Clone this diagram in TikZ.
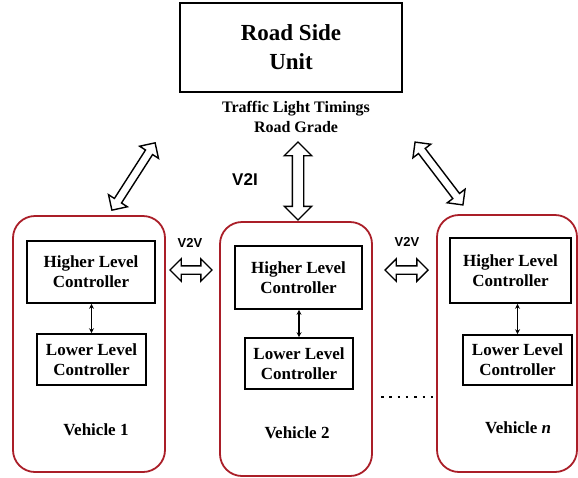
\documentclass[tikz,border=0pt]{standalone}
\usepackage{fontspec}
\setmainfont{Liberation Serif}
\setsansfont{Liberation Sans}
\usetikzlibrary{shapes.arrows,arrows.meta}
\definecolor{vred}{RGB}{170,30,40}
\begin{document}
\begin{tikzpicture}[x=1pt,y=-1pt,
  box/.style={draw, line width=1.6pt, inner sep=0pt, align=center,
    font=\bfseries\fontsize{17}{20}\selectfont},
  vbox/.style={draw=vred, line width=1.8pt, rounded corners=22pt, inner sep=0pt},
  harrow/.style={double arrow, draw, line width=1.4pt, inner xsep=0pt, inner ysep=3.5pt, fill=white,
    double arrow head extend=7pt, double arrow head indent=0pt},
  vlabel/.style={font=\sffamily\bfseries\fontsize{13}{15}\selectfont, inner sep=0pt},
  vtext/.style={font=\bfseries\fontsize{17}{20}\selectfont, inner sep=0pt},
  small/.style={{Stealth[length=5pt,width=5pt]}-{Stealth[length=5pt,width=5pt]}, line width=1.3pt}
]
\useasboundingbox (0,0) rectangle (578,477);
% Road side unit
\node[box, minimum width=222pt, minimum height=89pt,
  font=\bfseries\fontsize{23}{29}\selectfont] (rsu) at (291,47.5) {Road Side\\Unit};
\node[align=center, inner sep=0pt, font=\bfseries\fontsize{16}{20}\selectfont] (info) at (296,117) {Traffic Light Timings\\Road Grade};
% vehicles
\node[vbox, minimum width=152pt, minimum height=256pt] (v1) at (89,344) {};
\node[vbox, minimum width=152pt, minimum height=254pt] (v2) at (296,349) {};
\node[vbox, minimum width=140pt, minimum height=257pt] (vn) at (507,343.5) {};
% controllers
\node[box, minimum width=128pt, minimum height=62pt] (h1) at (91,272) {Higher Level\\Controller};
\node[box, minimum width=109pt, minimum height=51pt] (l1) at (91.5,359.5) {Lower Level\\Controller};
\node[box, minimum width=127pt, minimum height=63pt] (h2) at (298.5,277.5) {Higher Level\\Controller};
\node[box, minimum width=108pt, minimum height=51pt] (l2) at (299,363.5) {Lower Level\\Controller};
\node[box, minimum width=121pt, minimum height=65pt] (hn) at (510.5,270.5) {Higher Level\\Controller};
\node[box, minimum width=109pt, minimum height=50pt] (ln) at (517.5,360) {Lower Level\\Controller};
\draw[small] (h1.south -| l1.north) -- (l1.north);
\draw[small] (h2.south -| l2.north) -- (l2.north);
\draw[small] (hn.south -| ln.north) -- (ln.north);
% vehicle names
\node[vtext] (t1) at (96,430) {Vehicle 1};
\node[vtext] (t2) at (297,433) {Vehicle 2};
\node[vtext] (tn) at (518,428) {Vehicle \textit{n}};
% hollow arrows
\node[harrow, minimum height=80pt, rotate=57.3] (a1) at (133.5,176.5) {};
\node[harrow, minimum height=78pt, rotate=90, inner ysep=5pt, double arrow head extend=8pt] (a2) at (298,181) {};
\node[harrow, minimum height=79pt, rotate=-52.7] (a3) at (439,173.5) {};
\node[harrow, minimum height=42pt] (a4) at (191,270) {};
\node[harrow, minimum height=43pt] (a5) at (406.5,270) {};
% labels
\node[vlabel, font=\sffamily\bfseries\fontsize{17}{19}\selectfont] (v2i) at (245,180) {V2I};
\node[vlabel] (v2v1) at (190,243) {V2V};
\node[vlabel] (v2v2) at (407,242) {V2V};
% dots
\coordinate (d1) at (381,397);
\coordinate (d2) at (433.5,397);
\draw[line width=2.5pt, dash pattern=on 2.5pt off 5.8pt] (d1) -- (d2);
\end{tikzpicture}
\end{document}
